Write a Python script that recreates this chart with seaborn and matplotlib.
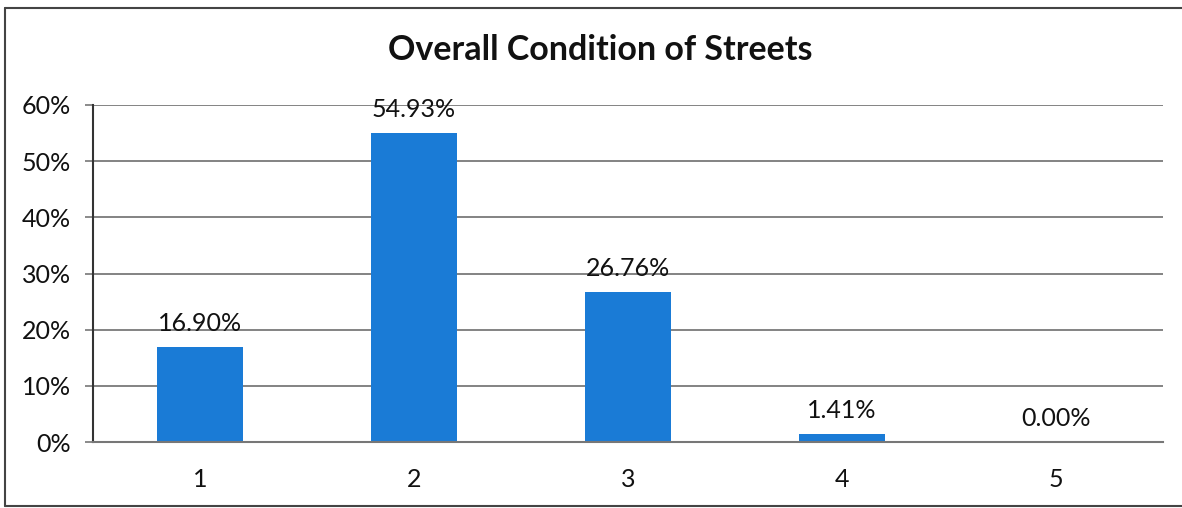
import matplotlib
matplotlib.use("Agg")
import matplotlib.pyplot as plt
import seaborn as sns
import pandas as pd
from matplotlib.lines import Line2D

categories = ["1", "2", "3", "4", "5"]
values = [16.90, 54.93, 26.76, 1.41, 0.00]
ytick_vals = [0, 10, 20, 30, 40, 50, 60]
ytick_labels = ["0%", "10%", "20%", "30%", "40%", "50%", "60%"]
title = "Overall Condition of Streets"

sns.set_theme(style="white")
plt.rcParams['font.family'] = ['Lato', 'DejaVu Sans']

df = pd.DataFrame({"cat": categories, "val": values})

fig = plt.figure(figsize=(11.82, 5.08), dpi=100)
ax = fig.add_axes([93/1182, 1-442/508, (1163-93)/1182, (442-105)/508])

sns.barplot(data=df, x="cat", y="val", ax=ax, color="#1a7bd6", width=0.40,
            saturation=1, edgecolor="none", linewidth=0)

ax.set_ylim(0, 60)
ax.set_xlim(-0.5, 4.5)
ax.set_yticks(ytick_vals)
ax.set_yticklabels(ytick_labels, fontsize=18, color="#111111")
ax.set_xticks(range(len(categories)))
ax.set_xticklabels(categories, fontsize=18, color="#111111")
ax.tick_params(axis="x", which="major", length=0, pad=19)
ax.set_xticks([i - 0.5 for i in range(len(categories) + 1)], minor=True)
ax.tick_params(axis="x", which="minor", length=5, width=1.2, color="#333333", direction="out")
ax.tick_params(axis="y", which="major", length=6, width=1.2, color="#777777", pad=10, left=True)
ax.set_xlabel("")
ax.set_ylabel("")

ax.yaxis.grid(True, color="#7a7a7a", linewidth=1.3)
ax.set_axisbelow(True)
for s in ["top", "right"]:
    ax.spines[s].set_visible(False)
ax.spines["left"].set_color("#333333")
ax.spines["left"].set_linewidth(1.5)
ax.spines["bottom"].set_color("#777777")
ax.spines["bottom"].set_linewidth(1.5)

for i, v in enumerate(values):
    ax.annotate(f"{v:.2f}%", xy=(i, v), xytext=(0, 17), textcoords="offset points",
                ha="center", va="center", fontsize=18, color="#111111")

fig.text(600/1182, 1-50/508, title, ha="center", va="center", fontsize=24.5,
         fontweight="bold", color="#111111")

border = dict(transform=fig.transFigure, color="#444444", linewidth=1.5)
fig.lines.append(Line2D([5/1182, 5/1182], [1-8/508, 1-506/508], **border))
fig.lines.append(Line2D([5/1182, 1.0], [1-8/508, 1-8/508], **border))
fig.lines.append(Line2D([5/1182, 1.0], [1-506/508, 1-506/508], **border))

fig.savefig("out.png", dpi=100, facecolor="white")
